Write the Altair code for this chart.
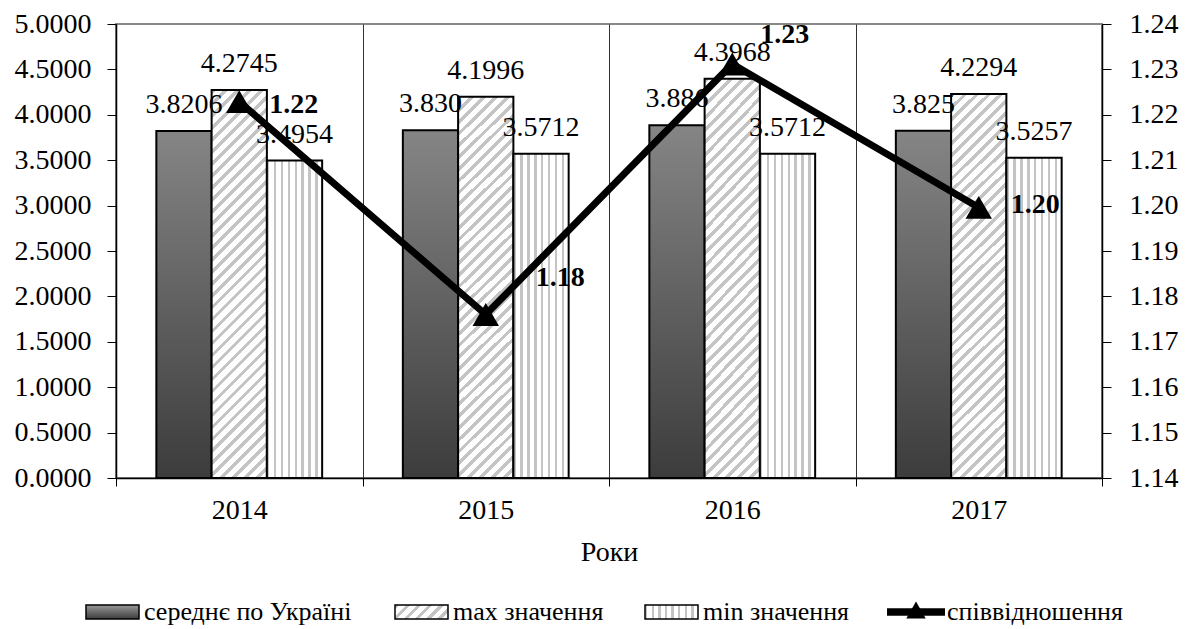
import altair as alt
import pandas as pd

# ---------------- data ----------------
years = ["2014", "2015", "2016", "2017"]
bar_series = ["середнє по Україні", "max значення", "min значення"]
line_series = "співвідношення"
mean_vals = [3.8206, 3.8302, 3.886, 3.825]
mean_labels = ["3.8206", "3.830", "3.886", "3.825"]
max_vals = [4.2745, 4.1996, 4.3968, 4.2294]
max_labels = ["4.2745", "4.1996", "4.3968", "4.2294"]
min_vals = [3.4954, 3.5712, 3.5712, 3.5257]
min_labels = ["3.4954", "3.5712", "3.5712", "3.5257"]
ratio_vals = [1.2229, 1.1760, 1.2312, 1.1996]
ratio_labels = ["1.22", "1.18", "1.23", "1.20"]
left_ticks = [0.0, 0.5, 1.0, 1.5, 2.0, 2.5, 3.0, 3.5, 4.0, 4.5, 5.0]
right_ticks = [1.14, 1.15, 1.16, 1.17, 1.18, 1.19, 1.20, 1.21, 1.22, 1.23, 1.24]

# ---------------- style ----------------
FONT = "Liberation Serif"
W, H = 986, 454
OFF_PAD = 0.73
BAR_W = (W / 4) / (3 + 2 * OFF_PAD)
RATIO_LABEL_OFFSETS = {"2014": (30, 3), "2015": (50, -37), "2016": (28, -29), "2017": (32, -2)}
LEGEND_NUDGE = [0, 42, 25, 0]
LEGEND_START = -30
LEGEND_STEP = 267
LEG_SW_W, LEG_SW_H = 53, 14


def stripe_gradient(n, frac, fg, bg, x2, y2):
    stops = []
    for k in range(n):
        a = k / n
        b = (k + frac) / n
        c = (k + 1) / n
        stops += [
            {"offset": a, "color": bg},
            {"offset": a, "color": fg},
            {"offset": b, "color": fg},
            {"offset": b, "color": bg},
            {"offset": c, "color": bg},
        ]
    return {"gradient": "linear", "x1": 0, "y1": 0, "x2": x2, "y2": y2, "stops": stops}


def diag_gradient(w, h, period, frac, fg, bg):
    k = (w + h) / (w * w + h * h)
    n = max(1, round((w + h) / period))
    return stripe_gradient(n, frac, fg, bg, w * k, h * k)


mean_fill = {"gradient": "linear", "x1": 0, "y1": 0, "x2": 0, "y2": 1,
             "stops": [{"offset": 0, "color": "#858585"}, {"offset": 1, "color": "#3c3c3c"}]}
avg_h = sum(max_vals) / 4 / 5 * H
max_fill = diag_gradient(BAR_W, avg_h, 12, 0.4, "#c4c4c4", "#ffffff")
min_fill = stripe_gradient(8, 0.35, "#c4c4c4", "#ffffff", 1, 0)
fills = [mean_fill, max_fill, min_fill]

leg_mean_fill = {"gradient": "linear", "x1": 0, "y1": 0, "x2": 0, "y2": 1,
                 "stops": [{"offset": 0, "color": "#9a9a9a"}, {"offset": 0.5, "color": "#6a6a6a"},
                           {"offset": 1, "color": "#3c3c3c"}]}
leg_max_fill = diag_gradient(LEG_SW_W, LEG_SW_H, 12, 0.4, "#c4c4c4", "#ffffff")
leg_min_fill = stripe_gradient(8, 0.35, "#c4c4c4", "#ffffff", 1, 0)
leg_fills = [leg_mean_fill, leg_max_fill, leg_min_fill]

# ---------------- tables ----------------
rows = []
for s, vals, labs in zip(bar_series, [mean_vals, max_vals, min_vals], [mean_labels, max_labels, min_labels]):
    for y, v, l in zip(years, vals, labs):
        rows.append({"year": y, "series": s, "value": v, "label": l})
bars_df = pd.DataFrame(rows)
ratio_df = pd.DataFrame({"year": years, "ratio": ratio_vals, "label": ratio_labels})

x_enc = alt.X(
    "year:N",
    sort=years,
    scale=alt.Scale(paddingInner=0, paddingOuter=0),
    axis=alt.Axis(
        title="Роки", labelAngle=0, tickBand="extent", grid=True, gridColor="#333333",
        gridWidth=1, domainColor="black", domainWidth=1.5, tickColor="black", tickSize=8,
        labelFontSize=28, labelPadding=10, titleFontSize=28, titleFontWeight="normal",
        titlePadding=14, titleFont=FONT, labelFont=FONT, labelColor="black", titleColor="black",
    ),
)
xoff_enc = alt.XOffset("series:N", sort=bar_series,
                       scale=alt.Scale(domain=bar_series, paddingInner=0, paddingOuter=OFF_PAD))
y_enc = alt.Y(
    "value:Q",
    scale=alt.Scale(domain=[0, 5], nice=False, zero=True),
    axis=alt.Axis(
        title=None, values=left_ticks, format=".4f", grid=False, domainColor="black",
        domainWidth=1.5, tickColor="black", tickSize=9, labelFontSize=28, labelFont=FONT,
        labelColor="black", labelPadding=16,
    ),
)
yr_enc = alt.Y(
    "ratio:Q",
    scale=alt.Scale(domain=[1.14, 1.24], nice=False, zero=False),
    axis=alt.Axis(
        title=None, orient="right", values=right_ticks, format=".2f", grid=False,
        domainColor="black", domainWidth=1.5, tickColor="black", tickSize=9, labelFontSize=28,
        labelFont=FONT, labelColor="black", labelPadding=18,
    ),
)

base_bars = alt.Chart(bars_df)
bar_layers = []
for s, f in zip(bar_series, fills):
    bar_layers.append(
        base_bars.transform_filter(alt.datum.series == s)
        .mark_bar(fill=f, stroke="black", strokeWidth=2)
        .encode(x=x_enc, xOffset=xoff_enc, y=y_enc)
    )
bar_text = base_bars.mark_text(font=FONT, fontSize=28, dy=-18, baseline="alphabetic", color="black").encode(
    x=x_enc, xOffset=xoff_enc, y=y_enc, text="label:N"
)
bars_group = alt.layer(*bar_layers, bar_text)

base_ratio = alt.Chart(ratio_df)
line = base_ratio.mark_line(color="black", strokeWidth=7).encode(x=x_enc, y=yr_enc)
pts = base_ratio.mark_point(shape="triangle-up", filled=True, size=700, color="black", opacity=1).encode(
    x=x_enc, y=yr_enc
)
rlabels = []
for yv in years:
    dx, dy = RATIO_LABEL_OFFSETS[yv]
    rlabels.append(
        base_ratio.transform_filter(alt.datum.year == yv)
        .mark_text(font=FONT, fontSize=28, fontWeight="bold", align="left", baseline="middle",
                   dx=dx, dy=dy, color="black")
        .encode(x=x_enc, y=yr_enc, text="label:N")
    )
ratio_group = alt.layer(line, pts, *rlabels)

main = alt.layer(bars_group, ratio_group).resolve_scale(y="independent").properties(width=W, height=H)

# ---------------- legend ----------------
leg_df = pd.DataFrame({"name": bar_series + [line_series], "idx": [0, 1, 2, 3]})
leg_x = alt.X("idx:Q", scale=alt.Scale(domain=[0, 3]), axis=None)
base_leg = alt.Chart(leg_df)
sw_path = "M-{a},-{b}H{a}V{b}H-{a}Z".format(a=LEG_SW_W / 20, b=LEG_SW_H / 20)
leg_layers = []
for i, f in enumerate(leg_fills):
    leg_layers.append(
        base_leg.transform_filter(alt.datum.idx == i)
        .mark_point(shape=sw_path, size=400, filled=True, fill=f,
                    stroke="black", strokeWidth=1.5, opacity=1,
                    xOffset=LEGEND_START + LEGEND_NUDGE[i] + LEG_SW_W / 2)
        .encode(x=leg_x, y=alt.value(10))
    )
leg_layers.append(
    base_leg.transform_filter(alt.datum.idx == 3)
    .mark_point(shape="M-2.9,-0.38H2.9V0.38H-2.9Z", size=400, filled=True, color="black", opacity=1,
                xOffset=LEGEND_START + LEGEND_NUDGE[3] + 29)
    .encode(x=leg_x, y=alt.value(10))
)
leg_layers.append(
    base_leg.transform_filter(alt.datum.idx == 3)
    .mark_point(shape="triangle-up", size=380, filled=True, color="black", opacity=1,
                xOffset=LEGEND_START + LEGEND_NUDGE[3] + 29)
    .encode(x=leg_x, y=alt.value(8))
)
for i in range(4):
    leg_layers.append(
        base_leg.transform_filter(alt.datum.idx == i)
        .mark_text(font=FONT, fontSize=26, align="left", baseline="middle", color="black",
                   xOffset=LEGEND_START + LEGEND_NUDGE[i] + (60 if i == 3 else 58))
        .encode(x=leg_x, y=alt.value(10), text="name:N")
    )
legend = alt.layer(*leg_layers).properties(
    width=3 * LEGEND_STEP, height=20, view=alt.ViewBackground(strokeOpacity=0)
)

chart = (
    alt.vconcat(main, legend, spacing=32)
    .properties(padding={"left": 5, "top": 1, "right": 0, "bottom": 0})
    .configure(font=FONT)
    .configure_axis(labelFont=FONT, titleFont=FONT)
    .configure_text(font=FONT)
    .configure_view(stroke="#888888", strokeWidth=2)
)

chart.save("out.html", embed_options={"renderer": "svg", "actions": False})
